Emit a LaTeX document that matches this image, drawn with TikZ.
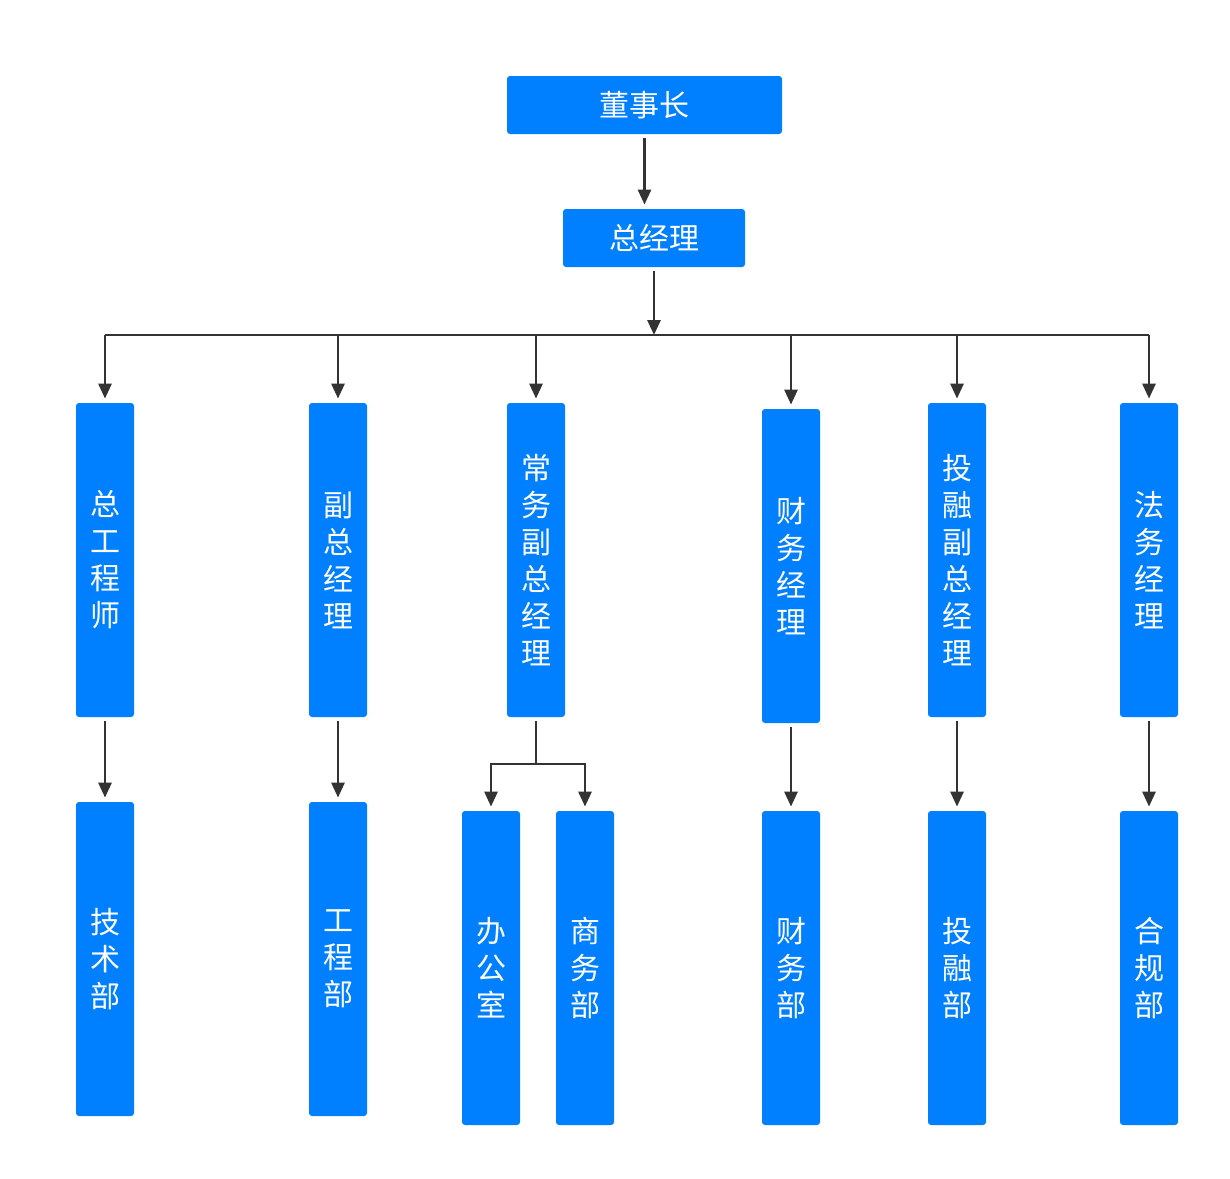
\documentclass[tikz,border=0pt]{standalone}
\usepackage{fontspec}
\newfontfamily\cjk{Noto Sans CJK SC}
\usetikzlibrary{arrows.meta}
\definecolor{boxblue}{RGB}{0,127,255}
\definecolor{linegray}{RGB}{51,51,51}
\tikzset{
  hbox/.style={fill=boxblue, rounded corners=1.5pt, text=white, inner sep=0pt,
    font=\cjk\fontsize{15}{18.5}\selectfont, minimum height=29pt},
  vbox/.style={hbox, align=center, minimum width=29pt, minimum height=157pt},
  link/.style={draw=linegray, line width=1.4pt},
  arr/.style={link, ->, shorten >=2pt}
}
\begin{document}
\begin{tikzpicture}[x=0.5pt, y=-0.5pt, >={Triangle[length=7.5pt,width=6.5pt]}]
		\useasboundingbox (0,0) rectangle (1230,1178);
		% top
		\node[hbox, minimum width=137.5pt] (DSZ) at (644.5,105) {董事长};
		\node[hbox, minimum width=91pt]    (ZJL) at (654,238)   {总经理};
		% second row
		\node[vbox] (ZGCS) at (105,560)  {总\\工\\程\\师};
		\node[vbox] (FZJL) at (338,560)  {副\\总\\经\\理};
		\node[vbox] (CWFZ) at (536,560)  {常\\务\\副\\总\\经\\理};
		\node[vbox] (CWJL) at (791,566)  {财\\务\\经\\理};
		\node[vbox] (TRFZ) at (957,560)  {投\\融\\副\\总\\经\\理};
		\node[vbox] (FWJL) at (1149,560) {法\\务\\经\\理};
		% departments
		\node[vbox] (JSB) at (105,959)  {技\\术\\部};
		\node[vbox] (GCB) at (338,959)  {工\\程\\部};
		\node[vbox] (BGS) at (491,968)  {办\\公\\室};
		\node[vbox] (SWB) at (585,968)  {商\\务\\部};
		\node[vbox] (CWB) at (791,968)  {财\\务\\部};
		\node[vbox] (TRB) at (957,968)  {投\\融\\部};
		\node[vbox] (HGB) at (1149,968) {合\\规\\部};
		\coordinate (bus) at (654,335);
		\coordinate (split) at (536,764);

		\draw[arr, shorten <=2pt] (DSZ.south) -- (DSZ.south |- ZJL.north);
		\draw[arr, shorten <=2pt, shorten >=0pt] (ZJL.south) -- (bus);
		\draw[link] (ZGCS |- bus) -- (FWJL |- bus);
		\foreach \n in {ZGCS,FZJL,CWFZ,CWJL,TRFZ,FWJL}
			\draw[arr] (\n |- bus) -- (\n);
		\foreach \a/\b in {ZGCS/JSB,FZJL/GCB,CWJL/CWB,TRFZ/TRB,FWJL/HGB}
			\draw[arr, shorten <=2pt] (\a) -- (\b);
		\draw[link, shorten <=2pt] (CWFZ) -- (split);
		\draw[arr] (split) -| (BGS);
		\draw[arr] (split) -| (SWB);
\end{tikzpicture}
\end{document}
